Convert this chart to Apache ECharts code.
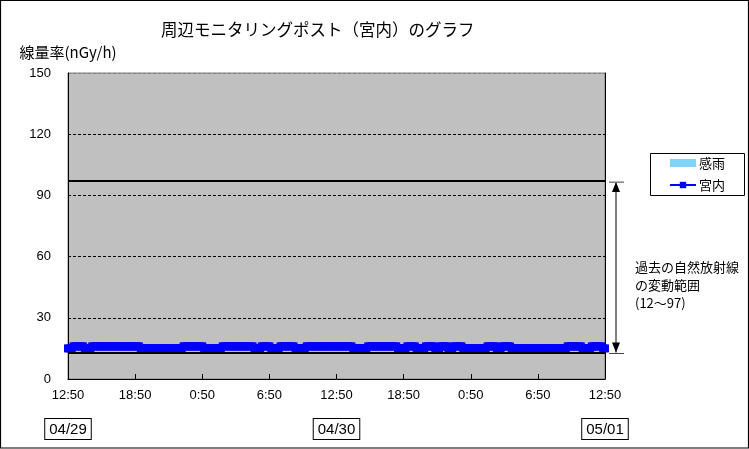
<!DOCTYPE html>
<html>
<head>
<meta charset="utf-8">
<script src="https://cdn.jsdelivr.net/npm/echarts@6/dist/echarts.min.js"></script>
<style>
html,body{margin:0;padding:0;background:#fff;}
#c{width:749px;height:449px;}
</style>
</head>
<body>
<div id="c"></div>
<script>
// ---- data ----
const titleText = '周辺モニタリングポスト（宮内）のグラフ';
const yAxisName = '線量率(nGy/h)';
const seriesNames = ['感雨', '宮内'];
const startDate = ['04/29', '04/30', '05/01'];
const yTicks = [0, 30, 60, 90, 120, 150];
const rangeHigh = 97;
const rangeLow = 13;
const rangeNote = '過去の自然放射線\nの変動範囲\n(12～97)';
// 10-minute values from 04/29 12:50 to 05/01 12:50
const miyauchi = [
  15,15,15,16,16,16,16,16,16,15,15,15,
  15,16,16,16,16,16,16,16,16,16,16,16,
  16,16,16,16,16,16,16,16,16,16,16,16,
  16,16,16,15,15,15,15,15,15,15,15,15,
  15,15,15,15,15,15,15,15,15,15,15,15,
  15,15,16,16,16,16,16,16,16,16,16,16,
  16,15,15,15,15,15,15,15,15,15,15,16,
  16,16,16,16,16,16,16,16,16,16,16,16,
  16,16,16,16,15,15,15,15,16,16,16,16,
  16,15,15,15,15,15,16,16,16,16,16,16,
  16,16,15,15,15,15,15,15,16,16,16,16,
  16,16,16,16,16,16,16,16,16,16,16,16,
  16,16,16,16,16,16,16,16,16,15,15,15,
  15,15,15,15,15,16,16,16,16,16,16,16,
  16,16,16,16,16,16,16,16,16,15,15,15,
  15,15,16,16,16,16,16,15,15,15,15,15,
  16,16,16,16,16,15,15,15,16,16,16,16,
  15,15,15,16,16,16,16,16,15,15,15,15,
  15,15,15,15,15,15,15,15,15,16,16,16,
  16,16,15,15,15,16,16,16,16,16,15,15,
  15,15,15,15,15,15,15,15,15,15,15,15,
  15,15,15,15,15,15,15,15,15,15,15,15,
  15,15,15,15,16,16,16,16,16,16,16,16,
  15,15,15,15,15,16,16,16,16,16,16,15,
  15
];
const kanu = []; // no rain detected

// time categories (10-minute steps starting 12:50)
const categories = [];
for (let k = 0; k < miyauchi.length; k++) {
  const m = (12 * 60 + 50 + k * 10) % (24 * 60);
  const h = Math.floor(m / 60), mm = m % 60;
  categories.push(h + ':' + (mm < 10 ? '0' : '') + mm);
}

const fontNum = "'Liberation Sans', Arial, sans-serif";
const fontJp = "'Noto Sans CJK JP', sans-serif";

const chart = echarts.init(document.getElementById('c'), null, {renderer: 'canvas', width: 749, height: 449});

const gridLeft = 68, gridRight = 144, gridTop = 73, gridBottom = 70;

chart.setOption({
  animation: false,
  backgroundColor: '#ffffff',
  title: {
    text: titleText,
    left: 161, top: 21, padding: 0,
    textStyle: {fontFamily: fontJp, fontSize: 16.5, fontWeight: 'normal', color: '#000'}
  },
  legend: {
    orient: 'vertical',
    left: 669, top: 156,
    padding: 0,
    itemGap: 8,
    itemWidth: 26, itemHeight: 8,
    textStyle: {fontFamily: fontJp, fontSize: 13, color: '#000', lineHeight: 14, padding: [0, 0, 0, -2]},
    data: [
      {name: seriesNames[0], icon: 'rect'},
      {name: seriesNames[1]}
    ]
  },
  grid: {
    left: gridLeft, right: gridRight, top: gridTop, bottom: gridBottom,
    show: true, backgroundColor: '#c0c0c0', borderColor: '#808080', borderWidth: 1
  },
  xAxis: [{
    type: 'category',
    data: categories,
    boundaryGap: false,
    axisLine: {lineStyle: {color: '#000', width: 1}},
    axisTick: {show: true, inside: true, length: 5, interval: 35, lineStyle: {color: '#000'}},
    axisLabel: {interval: 35, margin: 10, color: '#000', fontFamily: fontNum, fontSize: 13},
    splitLine: {show: false}
  }, {
    type: 'category',
    data: categories,
    boundaryGap: false,
    position: 'bottom',
    offset: 36,
    axisLine: {show: false},
    axisTick: {show: false},
    axisLabel: {
      interval: function (idx) { return idx % 144 === 0; },
      formatter: function (v, idx) { return startDate[Math.round(idx / 144)]; },
      margin: 4,
      color: '#000', fontFamily: fontNum, fontSize: 15, lineHeight: 15,
      borderColor: '#000', borderWidth: 1, padding: [3, 4, 2, 4], backgroundColor: '#fff'
    },
    splitLine: {show: false}
  }],
  yAxis: [{
    type: 'value',
    min: yTicks[0], max: yTicks[yTicks.length - 1], interval: 30,
    name: yAxisName,
    nameLocation: 'end',
    nameGap: 13,
    nameTextStyle: {fontFamily: fontJp, fontSize: 15, color: '#000'},
    axisLine: {show: true, lineStyle: {color: '#000', width: 1}},
    axisTick: {show: false},
    axisLabel: {margin: 17, color: '#000', fontFamily: fontNum, fontSize: 13},
    splitLine: {show: true, lineStyle: {color: ['#000', '#000', '#000', '#000', '#000', '#808080'], type: [3, 2], width: 1}}
  }, {
    type: 'value',
    min: 0, max: 150, interval: 30,
    position: 'right',
    axisLine: {show: true, lineStyle: {color: '#000', width: 1}},
    axisTick: {show: false},
    axisLabel: {show: false},
    splitLine: {show: false}
  }],
  series: [{
    name: seriesNames[0],
    type: 'bar',
    data: kanu,
    itemStyle: {color: '#80d4f8'}
  }, {
    name: seriesNames[1],
    type: 'line',
    data: miyauchi,
    symbol: 'rect',
    symbolSize: 8,
    showAllSymbol: true,
    itemStyle: {color: '#0000ff'},
    lineStyle: {color: '#0000ff', width: 3},
    markLine: {
      silent: true,
      symbol: 'none',
      label: {show: false},
      lineStyle: {color: '#000', width: 2, type: 'solid'},
      data: [{yAxis: rangeHigh}, {yAxis: rangeLow}]
    },
    z: 3
  }]
});

// annotation: range arrow, legend frame and note
const yTop = chart.convertToPixel({yAxisIndex: 0}, rangeHigh);
const yBot = chart.convertToPixel({yAxisIndex: 0}, rangeLow);
const ax = 749 - gridRight + 11;
chart.setOption({
  graphic: [
    {type: 'rect', shape: {x: 0.5, y: 0.5, width: 748, height: 447.5}, style: {fill: 'none', stroke: '#000', lineWidth: 1.2}, z: 100},
    {type: 'rect', shape: {x: 650.5, y: 153.5, width: 94, height: 42}, style: {fill: 'none', stroke: '#000', lineWidth: 1}, z: 100},
    {type: 'line', shape: {x1: ax, y1: yTop + 2, x2: ax, y2: yBot}, style: {stroke: '#000', lineWidth: 1}},
    {type: 'polygon', shape: {points: [[ax, yTop + 1], [ax - 4, yTop + 11], [ax + 4, yTop + 11]]}, style: {fill: '#000'}},
    {type: 'polygon', shape: {points: [[ax, yBot], [ax - 4, yBot - 10], [ax + 4, yBot - 10]]}, style: {fill: '#000'}},
    {type: 'line', shape: {x1: ax - 7, y1: yTop + 1, x2: ax + 8, y2: yTop + 1}, style: {stroke: '#404040', lineWidth: 1}},
    {type: 'line', shape: {x1: ax - 7, y1: yBot + 1, x2: ax + 8, y2: yBot + 1}, style: {stroke: '#404040', lineWidth: 1}},
    {type: 'text', x: 635, y: 258, style: {text: rangeNote, fill: '#000', font: "13px 'Noto Sans CJK JP', sans-serif", lineHeight: 18, verticalAlign: 'top'}}
  ]
});
</script>
</body>
</html>
